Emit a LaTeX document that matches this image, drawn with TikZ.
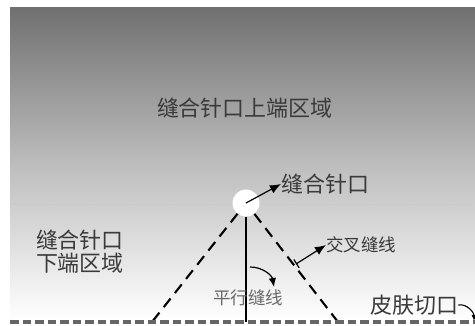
\documentclass[tikz,border=0pt]{standalone}
\usepackage{fontspec}
\newfontfamily\cjk{Noto Sans CJK SC}
\usetikzlibrary{arrows.meta}
\definecolor{txt}{HTML}{3A3A3A}
\definecolor{txtlight}{HTML}{6A6A6A}
\definecolor{topgray}{HTML}{707070}
\definecolor{cutgray}{HTML}{666666}
\tikzset{
  bigtxt/.style={font=\cjk\fontsize{22}{24}\selectfont, text=txt, inner sep=0pt},
  smalltxt/.style={font=\cjk\fontsize{17.5}{19}\selectfont, text=txt, inner sep=0pt},
  suture/.style={line width=2.1pt, draw=black},
  crossline/.style={suture, dash pattern=on 11pt off 7pt},
  pointer/.style={line width=1.2pt, -{Latex[length=11pt,width=9pt]}},
}
\begin{document}
\begin{tikzpicture}[x=1pt,y=-1pt]
\useasboundingbox (0,0) rectangle (475,325);
% background gradient
\shade[top color=topgray, bottom color=white, middle color=gray!52!white] (10,7) rectangle (475,320);
% dotted level line
\draw[gray!45, line width=0.5pt, dotted] (10,204) -- (475,204);
% region labels
\node[bigtxt] (upper) at (245,108) {缝合针口上端区域};
\node[bigtxt, align=center] (lower) at (80,252) {缝合针口\\[-1pt]下端区域};
% endpoints on the skin cut
\coordinate (L) at (152,322);
\coordinate (R) at (338,322);
\coordinate (B) at (246,322);
% sutures
\node[circle, fill=white, minimum size=27pt, inner sep=0pt] (needle) at (246,203) {};
\draw[crossline] (needle) -- (L);
\draw[crossline] (needle) -- (R);
\draw[suture] (needle.south) -- (B);
% skin cut
\draw[cutgray, line width=4pt, dash pattern=on 8.5pt off 4pt] (10,322) -- (475,322);
% needle label
\node[bigtxt, anchor=west] (needlelbl) at (281,184) {缝合针口};
\draw[pointer] (needle.center) -- (needlelbl.west);
% cross suture label
\node[smalltxt, anchor=west] (crosslbl) at (326,245) {交叉缝线};
\coordinate (cs) at (296,264);
\draw[line width=1.2pt, {Bar[width=10pt]}-{Latex[length=11pt,width=9pt]}] (cs) -- (crosslbl.west);
% parallel suture label
\node[smalltxt, text=txtlight] (parlbl) at (248,298) {平行缝线};
\coordinate (p1) at (250,267);
\coordinate (p2) at (274,287);
\draw[line width=1.2pt, -{Latex[length=9pt,width=7.5pt]}] (p1) to[bend left=40] (p2);
% skin cut label
\node[bigtxt, anchor=west] (cutlbl) at (370,305) {皮肤切口};
\coordinate (c2) at (474,321);
\draw[line width=1.1pt, -{Latex[length=6pt,width=5pt]}] (cutlbl.east) to[out=10, in=90] (c2);
\end{tikzpicture}
\end{document}
